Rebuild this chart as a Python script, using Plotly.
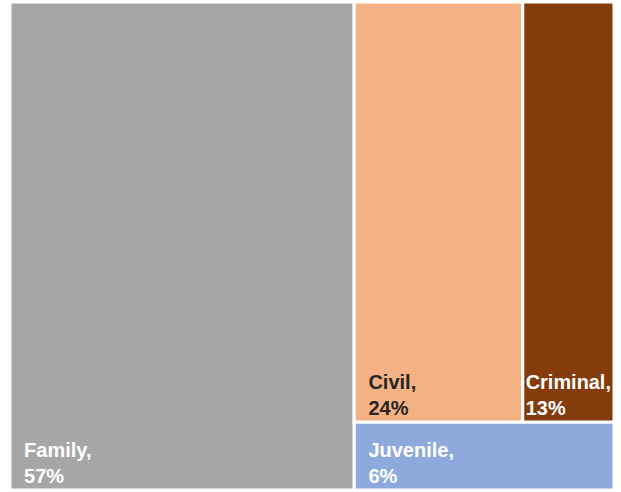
import plotly.graph_objects as go

categories = ["Family", "Civil", "Criminal", "Juvenile"]
values = [57, 24, 13, 6]
colors = ["#A6A6A6", "#F4B183", "#843C0C", "#8EA9DB"]
text_colors = ["#FFFFFF", "#262626", "#FFFFFF", "#FFFFFF"]
# layout grouping (hidden intermediate nodes): Family | [ [Civil | Criminal] / Juvenile ]
group_of = ["root", "top", "top", "right"]

# order nodes so that siblings appear in display order (sort=False)
ids = ["root", "Family", "right", "top", "Civil", "Criminal", "Juvenile"]
node_parent = {"root": "", "right": "root", "top": "right"}
node_parent.update(dict(zip(categories, group_of)))
val_of = dict(zip(categories, values))
col_of = dict(zip(categories, colors))
tcol_of = dict(zip(categories, text_colors))

ind = "\u00a0\u00a0"
def tmpl(n):
    if n not in categories:
        return ""
    p = "" if n == "Criminal" else ind
    return p + "%{label},<br>" + p + "%{value}%"

fig = go.Figure(go.Treemap(
    ids=ids,
    labels=[n if n in categories else "" for n in ids],
    parents=[node_parent[n] for n in ids],
    values=[val_of.get(n, 0) for n in ids],
    branchvalues="remainder",
    sort=False,
    marker=dict(colors=[col_of.get(n, "white") for n in ids],
                line=dict(color="white", width=3),
                pad=dict(t=0, l=0, r=0, b=0)),
    texttemplate=[tmpl(n) for n in ids],
    textposition="bottom left",
    textfont=dict(family="Liberation Sans, Arial", size=20, weight="bold",
                  color=[tcol_of.get(n, "white") for n in ids]),
    tiling=dict(packing="slice-dice", pad=0),
    pathbar=dict(visible=False),
    hoverinfo="skip",
))
fig.update_layout(
    width=621, height=492,
    margin=dict(l=10, r=7, t=2, b=2),
    paper_bgcolor="white",
)
fig.write_html("out.html", config={"displayModeBar": False},
               post_script="document.body.style.margin='0';")
